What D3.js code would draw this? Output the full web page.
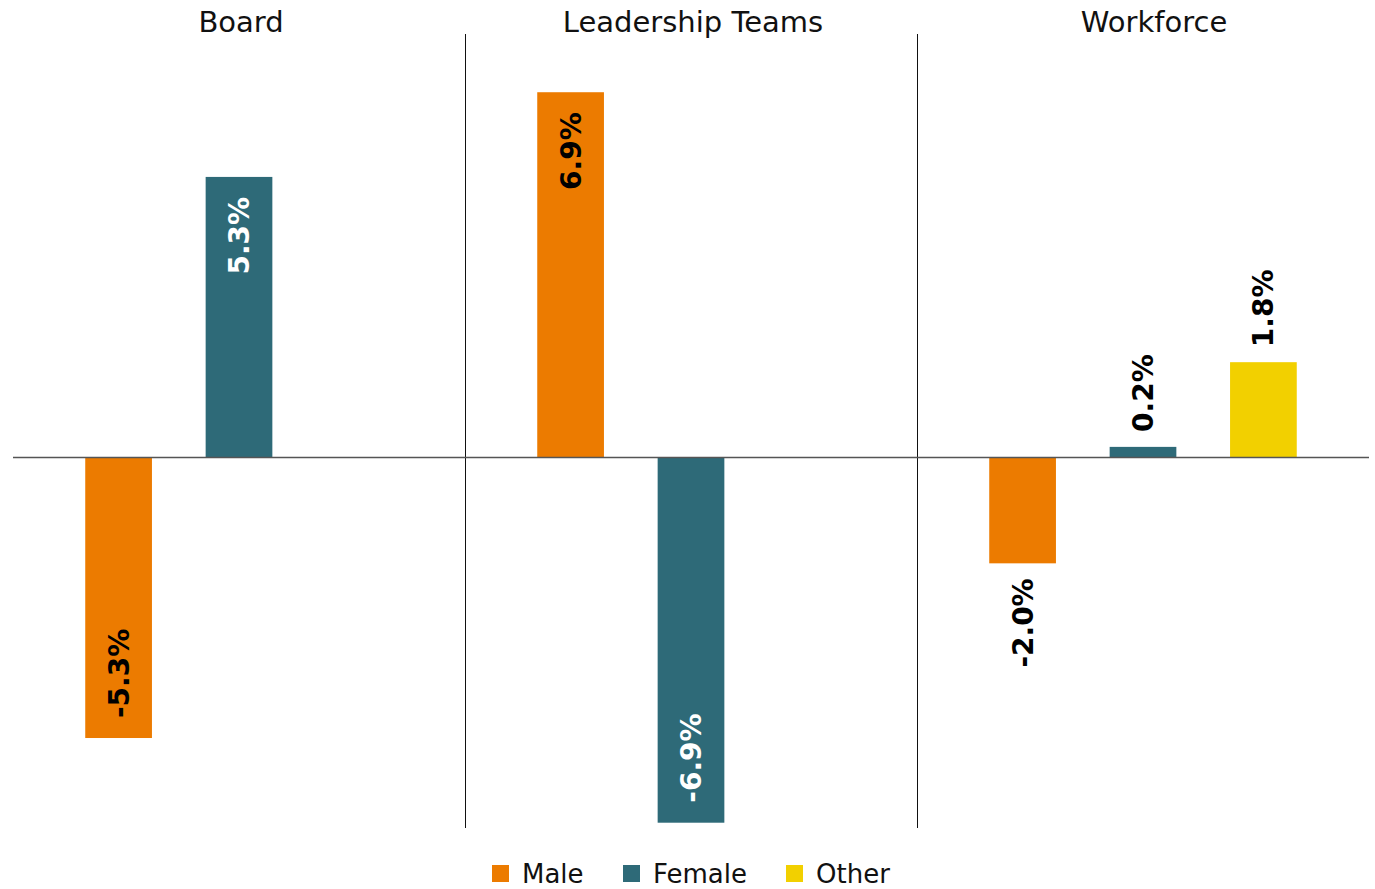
<!DOCTYPE html>
<html>
<head>
<meta charset="utf-8">
<script src="https://cdn.jsdelivr.net/npm/d3@7"></script>
<style>
  html, body { margin: 0; padding: 0; background: #fff; }
  svg { display: block; }
  text { font-family: "DejaVu Sans", sans-serif; }
</style>
</head>
<body>
<script>
const panels = ["Board", "Leadership Teams", "Workforce"];
const genders = ["Male", "Female", "Other"];
const maleValues = [-5.3, 6.9, -2.0];
const femaleValues = [5.3, -6.9, 0.2];
const otherValues = [null, null, 1.8];
const colors = { Male: "#EC7B00", Female: "#2E6A78", Other: "#F2D000" };
const labelInk = { Male: "#000", Female: "#fff", Other: "#000" };

const W = 1375, H = 889;
const svg = d3.select("body").append("svg").attr("width", W).attr("height", H);

const series = { Male: maleValues, Female: femaleValues, Other: otherValues };
const data = [];
panels.forEach((p, i) => genders.forEach(g => {
  const v = series[g][i];
  if (v !== null && v !== undefined) data.push({ panel: p, gender: g, value: v });
}));

const xPanel = d3.scaleBand().domain(panels).range([13, 1369]).padding(0);
const xInner = d3.scaleBand().domain(genders).range([0, xPanel.bandwidth()])
  .paddingInner(0.446).paddingOuter(0.6);
const y = d3.scaleLinear().domain([-7, 8]).range([828, 34]);

// panel dividers
svg.append("g").selectAll("line").data(panels.slice(1)).join("line")
  .attr("x1", d => Math.round(xPanel(d)) + 0.5).attr("x2", d => Math.round(xPanel(d)) + 0.5)
  .attr("y1", y(8)).attr("y2", y(-7))
  .attr("stroke", "#111").attr("stroke-width", 1);

// titles
svg.append("g").selectAll("text").data(panels).join("text")
  .attr("x", d => xPanel(d) + xPanel.bandwidth() / 2 + (d === "Workforce" ? 11 : 2))
  .attr("y", 32)
  .attr("text-anchor", "middle")
  .attr("font-size", 29)
  .attr("fill", "#111")
  .text(d => d);

// bars
const bx = d => xPanel(d.panel) + xInner(d.gender);
svg.append("g").selectAll("rect").data(data).join("rect")
  .attr("x", bx)
  .attr("width", xInner.bandwidth())
  .attr("y", d => Math.min(y(d.value), y(0)))
  .attr("height", d => Math.abs(y(d.value) - y(0)))
  .attr("fill", d => colors[d.gender]);

// zero line
svg.append("line")
  .attr("x1", xPanel.range()[0]).attr("x2", xPanel.range()[1])
  .attr("y1", y(0)).attr("y2", y(0))
  .attr("stroke", "#555").attr("stroke-width", 1.5);

// labels
const fmt = d => d.toFixed(1) + "%";
const labelSize = 28;
svg.append("g").selectAll("text").data(data).join("text")
  .each(function(d) {
    const el = d3.select(this);
    const cx = bx(d) + xInner.bandwidth() / 2;
    const len = Math.abs(y(d.value) - y(0));
    const inside = len > 140;
    let ty, anchor, fill;
    if (d.value >= 0) {
      if (inside) { ty = y(d.value) + 20; anchor = "end"; fill = labelInk[d.gender]; }
      else { ty = y(d.value) - 15; anchor = "start"; fill = "#000"; }
    } else {
      if (inside) { ty = y(d.value) - 20; anchor = "start"; fill = labelInk[d.gender]; }
      else { ty = y(d.value) + 15; anchor = "end"; fill = "#000"; }
    }
    el.attr("transform", `translate(${cx},${ty}) rotate(-90)`)
      .attr("text-anchor", anchor)
      .attr("dy", "0.36em")
      .attr("font-size", labelSize)
      .attr("font-weight", "bold")
      .attr("fill", fill)
      .text(fmt(d.value));
  });

// legend
const legendX = [492, 623, 786];
const lg = svg.append("g").selectAll("g").data(genders).join("g")
  .attr("transform", (d, i) => `translate(${legendX[i]},865)`);
lg.append("rect").attr("width", 17).attr("height", 17).attr("fill", d => colors[d]);
lg.append("text").attr("x", 30).attr("y", 18).attr("font-size", 26).attr("fill", "#111").text(d => d);
</script>
</body>
</html>
